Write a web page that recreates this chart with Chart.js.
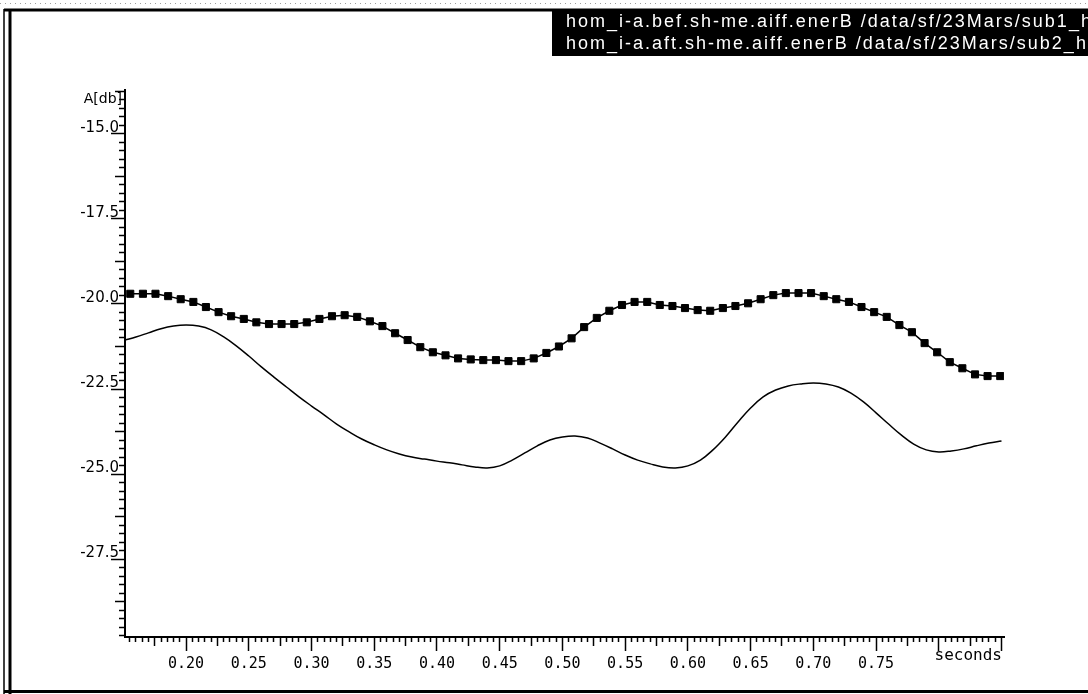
<!DOCTYPE html>
<html>
<head>
<meta charset="utf-8">
<script src="https://cdn.jsdelivr.net/npm/chart.js@4.4.1/dist/chart.umd.min.js"></script>
<style>
  html, body { margin: 0; padding: 0; background: #fff; }
  canvas { display: block; }
</style>
</head>
<body>
<canvas id="energy" width="1088" height="694"></canvas>
<script>
// Series names shown in the black legend box
const seriesNames = [
  'hom_i-a.bef.sh-me.aiff.enerB /data/sf/23Mars/sub1_h',
  'hom_i-a.aft.sh-me.aiff.enerB /data/sf/23Mars/sub2_h'
];

// Frame times (s) of the marked energy track
const frameTimes = [
  0.1555, 0.1656, 0.1756, 0.1857, 0.1957, 0.2058, 0.2158, 0.2259, 0.2359, 0.2460,
  0.2560, 0.2661, 0.2761, 0.2862, 0.2962, 0.3063, 0.3163, 0.3264, 0.3364, 0.3465,
  0.3565, 0.3666, 0.3766, 0.3867, 0.3967, 0.4068, 0.4168, 0.4269, 0.4369, 0.4470,
  0.4570, 0.4671, 0.4771, 0.4872, 0.4972, 0.5073, 0.5173, 0.5274, 0.5374, 0.5475,
  0.5575, 0.5676, 0.5776, 0.5877, 0.5977, 0.6078, 0.6178, 0.6279, 0.6379, 0.6480,
  0.6580, 0.6681, 0.6781, 0.6882, 0.6982, 0.7083, 0.7183, 0.7284, 0.7384, 0.7485,
  0.7585, 0.7686, 0.7786, 0.7887, 0.7987, 0.8088, 0.8188, 0.8289, 0.8389, 0.8490
];

// Energy (dB) before, one value per frame
const energyBefore = [
  -19.70, -19.70, -19.70, -19.77, -19.86, -19.94, -20.09, -20.24, -20.36, -20.44,
  -20.54, -20.59, -20.59, -20.59, -20.54, -20.44, -20.36, -20.33, -20.38, -20.51,
  -20.65, -20.86, -21.06, -21.27, -21.42, -21.51, -21.60, -21.63, -21.65, -21.65,
  -21.68, -21.68, -21.60, -21.44, -21.25, -21.01, -20.68, -20.41, -20.20, -20.03,
  -19.94, -19.94, -20.03, -20.06, -20.12, -20.18, -20.20, -20.12, -20.06, -19.98,
  -19.86, -19.74, -19.68, -19.68, -19.68, -19.77, -19.86, -19.94, -20.09, -20.24,
  -20.38, -20.62, -20.83, -21.15, -21.42, -21.71, -21.89, -22.07, -22.12, -22.12
];

// Sample times (s) of the plain energy curve
const curveTimes = [
  0.1513, 0.16, 0.17, 0.18, 0.19, 0.20, 0.21, 0.22, 0.23, 0.24, 0.25,
  0.26, 0.27, 0.28, 0.29, 0.30, 0.31, 0.32, 0.33, 0.34, 0.35,
  0.36, 0.37, 0.38, 0.39, 0.40, 0.41, 0.42, 0.43, 0.44, 0.45,
  0.46, 0.47, 0.48, 0.49, 0.50, 0.51, 0.52, 0.53, 0.54, 0.55,
  0.56, 0.57, 0.58, 0.59, 0.60, 0.61, 0.62, 0.63, 0.64, 0.65,
  0.66, 0.67, 0.68, 0.69, 0.70, 0.71, 0.72, 0.73, 0.74, 0.75,
  0.76, 0.77, 0.78, 0.79, 0.80, 0.81, 0.82, 0.83, 0.84, 0.85
];

// Energy (dB) after
const energyAfter = [
  -21.06, -20.97, -20.85, -20.73, -20.65, -20.62, -20.65, -20.76, -20.97, -21.23, -21.53,
  -21.85, -22.15, -22.44, -22.73, -23.00, -23.26, -23.53, -23.76, -23.97, -24.14,
  -24.29, -24.41, -24.50, -24.56, -24.62, -24.67, -24.73, -24.79, -24.82, -24.76,
  -24.59, -24.38, -24.17, -24.00, -23.91, -23.88, -23.94, -24.09, -24.26, -24.44,
  -24.59, -24.70, -24.79, -24.82, -24.76, -24.59, -24.29, -23.91, -23.47, -23.06,
  -22.73, -22.53, -22.41, -22.35, -22.32, -22.35, -22.44, -22.62, -22.88, -23.20,
  -23.53, -23.85, -24.12, -24.29, -24.35, -24.32, -24.26, -24.17, -24.09, -24.03
];

// Axis extents and labelled ticks
const xRange = [0.1513, 0.852];
const yRange = [-29.79, -13.71];
const xMajorTicks = [0.20, 0.25, 0.30, 0.35, 0.40, 0.45, 0.50, 0.55, 0.60, 0.65, 0.70, 0.75, 0.80, 0.85];
const xTickLabels = ['0.20', '0.25', '0.30', '0.35', '0.40', '0.45', '0.50', '0.55', '0.60', '0.65', '0.70', '0.75'];
const yMajorTicks = [-15.0, -17.5, -20.0, -22.5, -25.0, -27.5];
const yTickLabels = ['-15.0', '-17.5', '-20.0', '-22.5', '-25.0', '-27.5'];
const xAxisTitle = 'seconds';
const yAxisTitle = 'A[db]';

// Evenly spaced tick values within a range (for the small ruler marks)
function rulerTicks(range, step, skipStep) {
  const out = [];
  for (let i = Math.ceil(range[0] / step - 1e-9); i * step <= range[1] + 1e-9; i++) {
    const v = +(i * step).toFixed(4);
    if (skipStep && Math.abs(v / skipStep - Math.round(v / skipStep)) < 1e-6) continue;
    out.push(v);
  }
  return out;
}

const INK = '#000';
const MONO = '"DejaVu Sans Mono", monospace';
const SANS = '"DejaVu Sans", sans-serif';

function tickMarks(len) {
  return { display: true, drawOnChartArea: false, drawTicks: true, tickLength: len, tickWidth: 1.5, tickColor: INK };
}

function rulerAxis(axis, range, values, len) {
  const pos = axis === 'x' ? { y: yRange[0] } : { x: xRange[0] };
  return {
    type: 'linear', axis, position: pos, min: range[0], max: range[1], bounds: 'data',
    afterBuildTicks: s => { s.ticks = values.map(v => ({ value: v })); },
    ticks: { display: false },
    grid: tickMarks(len),
    border: { display: false }
  };
}

const framePlugin = {
  id: 'frame',
  beforeDraw(chart) {
    const { ctx, width, height } = chart;
    ctx.save();
    ctx.fillStyle = '#fff';
    ctx.fillRect(0, 0, width, height);
    // speckled strip along the top edge
    ctx.strokeStyle = '#a0a0a0';
    ctx.lineWidth = 1;
    ctx.setLineDash([1, 4]);
    ctx.beginPath(); ctx.moveTo(0, 3.5); ctx.lineTo(width, 3.5); ctx.stroke();
    ctx.setLineDash([]);
    // window border
    ctx.strokeStyle = INK;
    ctx.lineWidth = 3;
    ctx.beginPath(); ctx.moveTo(4, 10); ctx.lineTo(width, 10); ctx.stroke();
    ctx.beginPath(); ctx.moveTo(10, 10); ctx.lineTo(10, height); ctx.stroke();
    ctx.beginPath(); ctx.moveTo(4, 691.5); ctx.lineTo(width, 691.5); ctx.stroke();
    ctx.lineWidth = 1.5;
    ctx.beginPath(); ctx.moveTo(4, 9); ctx.lineTo(4, height); ctx.stroke();
    ctx.restore();
  },
  afterDraw(chart) {
    const { ctx, width, chartArea } = chart;
    ctx.save();
    // axis titles
    ctx.fillStyle = INK;
    ctx.font = '14px ' + SANS;
    ctx.textAlign = 'right';
    ctx.textBaseline = 'middle';
    ctx.fillText(yAxisTitle, chartArea.left - 3, chartArea.top + 9);
    ctx.font = '16px ' + MONO;
    ctx.fillText(xAxisTitle, chartArea.right - 2, chartArea.bottom + 19);
    // legend box
    ctx.fillStyle = INK;
    ctx.fillRect(552, 10, width - 552, 46);
    ctx.fillStyle = '#fff';
    ctx.font = '18px "Liberation Sans", Arial, sans-serif';
    ctx.letterSpacing = '2px';
    ctx.textAlign = 'left';
    chart.data.datasets.forEach((ds, i) => {
      ctx.fillText(ds.label, 566, 22 + i * 22);
    });
    ctx.restore();
  }
};

new Chart(document.getElementById('energy'), {
  type: 'line',
  data: {
    datasets: [
      {
        label: seriesNames[0],
        data: frameTimes.map((t, i) => ({ x: t, y: energyBefore[i] })),
        borderColor: INK, borderWidth: 1.5, tension: 0,
        pointStyle: 'rect', pointRadius: 5, pointBackgroundColor: INK, pointBorderColor: INK, pointBorderWidth: 1
      },
      {
        label: seriesNames[1],
        data: curveTimes.map((t, i) => ({ x: t, y: energyAfter[i] })),
        borderColor: INK, borderWidth: 1.5, tension: 0.4, pointRadius: 0
      }
    ]
  },
  options: {
    responsive: false,
    animation: false,
    devicePixelRatio: 1,
    layout: { padding: { left: 0, top: 90, right: 84, bottom: 0 } },
    plugins: { legend: { display: false }, tooltip: { enabled: false } },
    scales: {
      x: {
        type: 'linear', position: 'bottom', min: xRange[0], max: xRange[1], bounds: 'data',
        afterBuildTicks: s => { s.ticks = xMajorTicks.map(v => ({ value: v })); },
        afterFit: s => { s.height = 57; },
        ticks: {
          autoSkip: false, maxRotation: 0, padding: 4, color: INK,
          font: { family: MONO, size: 15 },
          callback: v => {
            const i = xMajorTicks.findIndex(m => Math.abs(m - v) < 1e-6);
            return i >= 0 && i < xTickLabels.length ? xTickLabels[i] : '';
          }
        },
        grid: tickMarks(14),
        border: { display: true, color: INK, width: 2 }
      },
      xMid: rulerAxis('x', xRange, rulerTicks(xRange, 0.025, 0.05), 9),
      xMinor: rulerAxis('x', xRange, rulerTicks(xRange, 0.005, 0.025), 5),
      y: {
        type: 'linear', position: 'left', min: yRange[0], max: yRange[1], bounds: 'data',
        afterBuildTicks: s => { s.ticks = yMajorTicks.map(v => ({ value: v })); },
        afterFit: s => { s.width = 125; },
        ticks: {
          autoSkip: false, padding: -8, labelOffset: -6, color: INK,
          font: { family: SANS, size: 15 },
          callback: v => {
            const i = yMajorTicks.findIndex(m => Math.abs(m - v) < 1e-6);
            return i >= 0 ? yTickLabels[i] : '';
          }
        },
        grid: tickMarks(14),
        border: { display: true, color: INK, width: 2 }
      },
      yMid: rulerAxis('y', yRange, rulerTicks(yRange, 1.25, 2.5), 10),
      yMinor: rulerAxis('y', yRange, rulerTicks(yRange, 0.25, 1.25), 6)
    }
  },
  plugins: [framePlugin]
});
</script>
</body>
</html>
